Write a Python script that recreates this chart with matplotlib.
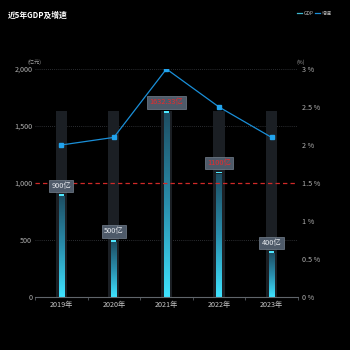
import numpy as np
import matplotlib
matplotlib.use("Agg")
import matplotlib.pyplot as plt
from matplotlib.colors import LinearSegmentedColormap

plt.rcParams['font.family'] = ['Noto Sans CJK SC', 'DejaVu Sans']

years = ["2019年", "2020年", "2021年", "2022年", "2023年"]
gdp = [900, 500, 1632.33, 1100, 400]
gdp_labels = ["900亿", "500亿", "1632.33亿", "1100亿", "400亿"]
growth = [2.0, 2.1, 3.0, 2.5, 2.1]
left_ticks = [0, 500, 1000, 1500, 2000]
left_tick_labels = ["0", "500", "1,000", "1,500", "2,000"]
right_ticks = [0, 0.5, 1, 1.5, 2, 2.5, 3]
right_tick_labels = ["0 %", "0.5 %", "1 %", "1.5 %", "2 %", "2.5 %", "3 %"]
warn_level = 1000

bg = "#000000"
fig = plt.figure(figsize=(3.5, 3.5), dpi=100, facecolor=bg)
ax = fig.add_axes([0.1, 0.1514, 0.751, 0.6515], facecolor=bg)
ax2 = ax.twinx()

x = np.arange(len(years))
ax.set_xlim(-0.5, len(years) - 0.5)
ax.set_ylim(0, 2000)
ax2.set_ylim(0, 3)

# grey shadow columns up to the largest value
shadow = max(gdp)
ax.bar(x, [shadow] * len(x), width=0.21, color="#1b1f24", zorder=1)

# gradient bars
cmap = LinearSegmentedColormap.from_list("bar", ["#3fe3ff", "#2a8fae", "#1d4e63"])
grad = np.linspace(0, 1, 256).reshape(-1, 1)
bw = 0.1
for xi, v in zip(x, gdp):
    ax.imshow(grad, cmap=cmap, origin="lower", aspect="auto",
              extent=(xi - bw / 2, xi + bw / 2, 0, v - 22), zorder=2)
    ax.bar(xi, 16, bottom=v - 16, width=bw, color="#4de8ff", zorder=3)

# labels
for xi, v, lab in zip(x, gdp, gdp_labels):
    col = "#e82a2c" if v > warn_level else "#e6e9ee"
    ax.text(xi, v + 75, lab, ha="center", va="center", fontsize=5.3, color=col,
            zorder=6,
            bbox=dict(boxstyle="square,pad=0.3", fc="#4e5a69", ec="#76818f", lw=0.5))

# warning line
ax.axhline(warn_level, color="#d02a28", lw=0.9, ls=(0, (3.5, 2.5)), zorder=4)

# grid
for t in [500, 1500, 2000]:
    ax.axhline(t, color="#3a3d42", lw=0.6, ls=(0, (1, 1.5)), zorder=0)

# growth line
ax2.plot(x, growth, color="#1a8fd8", lw=0.9, marker="s", ms=2.2,
         mfc="#22a4ee", mec="#22a4ee", zorder=5)

ax.set_xticks(x)
ax.set_xticklabels(years)
ax.set_xticks(np.arange(-0.5, len(years), 1), minor=True)
ax.tick_params(axis="x", which="major", length=0, colors="#c8c8c8", labelsize=5.2, pad=3)
ax.tick_params(axis="x", which="minor", length=2, color="#555a60")
ax.set_yticks(left_ticks)
ax.set_yticklabels(left_tick_labels)
ax.tick_params(axis="y", length=0, colors="#b0b0b0", labelsize=5.2, pad=2)
ax2.set_yticks(right_ticks)
ax2.set_yticklabels(right_tick_labels)
ax2.tick_params(axis="y", length=0, colors="#b0b0b0", labelsize=5.2, pad=3)

for a in (ax, ax2):
    for s in a.spines.values():
        s.set_visible(False)
ax.spines["bottom"].set_visible(True)
ax.spines["bottom"].set_color("#60656b")
ax.spines["bottom"].set_linewidth(0.8)

fig.text(0.1, 0.818, "(亿元)", fontsize=3.8, color="#a0a0a0", ha="center")
fig.text(0.86, 0.818, "(%)", fontsize=3.8, color="#a0a0a0", ha="center")

fig.text(0.022, 0.97, "近5年GDP及增速", fontsize=5.6, color="white",
         fontweight="bold", ha="left", va="top")

# legend
fig.lines.append(plt.Line2D([0.848, 0.862], [0.962, 0.962], transform=fig.transFigure,
                            color="#3fb8d0", lw=0.9))
fig.text(0.868, 0.962, "GDP", fontsize=3.6, color="#b0b0b0", va="center")
fig.lines.append(plt.Line2D([0.9, 0.914], [0.962, 0.962], transform=fig.transFigure,
                            color="#1a8fd8", lw=0.9))
fig.text(0.92, 0.962, "增速", fontsize=3.6, color="#b0b0b0", va="center")

fig.savefig("out.png", dpi=100, facecolor=bg)
